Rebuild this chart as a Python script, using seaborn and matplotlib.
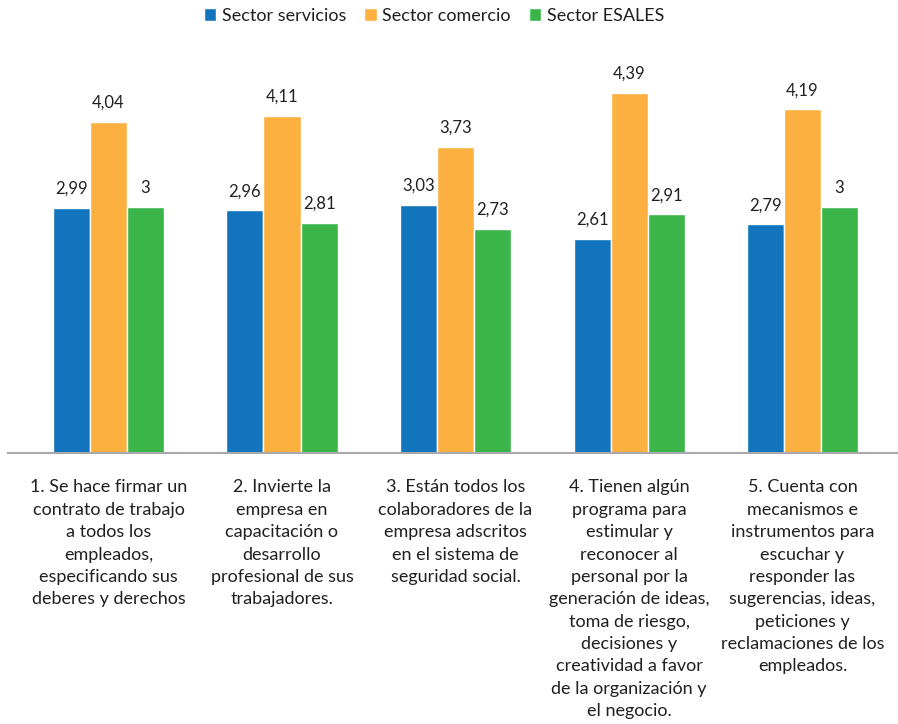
import matplotlib
matplotlib.use("Agg")
import matplotlib.pyplot as plt
import seaborn as sns
import pandas as pd

categorias = [
    "1. Se hace firmar un\ncontrato de trabajo\na todos los\nempleados,\nespecificando sus\ndeberes y derechos",
    "2. Invierte la\nempresa en\ncapacitación o\ndesarrollo\nprofesional de sus\ntrabajadores.",
    "3. Están todos los\ncolaboradores de la\nempresa adscritos\nen el sistema de\nseguridad social.",
    "4. Tienen algún\nprograma para\nestimular y\nreconocer al\npersonal por la\ngeneración de ideas,\ntoma de riesgo,\ndecisiones y\ncreatividad a favor\nde la organización y\nel negocio.",
    "5. Cuenta con\nmecanismos e\ninstrumentos para\nescuchar y\nresponder las\nsugerencias, ideas,\npeticiones y\nreclamaciones de los\nempleados.",
]
series = ["Sector servicios", "Sector comercio", "Sector ESALES"]
servicios = [2.99, 2.96, 3.03, 2.61, 2.79]
comercio = [4.04, 4.11, 3.73, 4.39, 4.19]
esales = [3.00, 2.81, 2.73, 2.91, 3.00]
colores = ["#1174BC", "#FBB040", "#3BB54A"]

rows = []
for s, vals in zip(series, [servicios, comercio, esales]):
    for i, v in enumerate(vals):
        rows.append({"pregunta": i, "sector": s, "valor": v})
df = pd.DataFrame(rows)

sns.set_theme(style="white")
plt.rcParams["font.family"] = ["Lato", "DejaVu Sans"]

fig = plt.figure(figsize=(8.98, 7.24), dpi=100)
ax = fig.add_axes([8 / 898, 0.3743, 890 / 898, 0.5436])

sns.barplot(data=df, x="pregunta", y="valor", hue="sector", hue_order=series,
            palette=colores, width=0.64, saturation=1, ax=ax, legend=True)

ax.set_xlim(-0.579, 4.55)
ax.set_ylim(0, 4.8)
for sp in ["top", "right", "left"]:
    ax.spines[sp].set_visible(False)
ax.spines["bottom"].set_color("#A7A9AC")
ax.spines["bottom"].set_linewidth(1.5)
ax.set_yticks([])
ax.set_xlabel("")
ax.set_ylabel("")
ax.set_xticks(range(len(categorias)))
ax.set_xticklabels(categorias, fontsize=13, color="#231F20", linespacing=1.49)
ax.tick_params(axis="x", length=0, pad=19)

def fmt(v):
    return f"{v:.2f}".rstrip("0").rstrip(".").replace(".", ",")

for cont in ax.containers:
    ax.bar_label(cont, labels=[fmt(b.get_height()) for b in cont], padding=8,
                 fontsize=12, color="#231F20")

handles, labels = ax.get_legend_handles_labels()
ax.get_legend().remove()
leg = fig.legend(handles, labels, loc="center", bbox_to_anchor=(0.5 - 15 / 898, 1 - 16 / 724), ncol=3,
                 frameon=False, fontsize=13, handlelength=0.7, handleheight=0.7,
                 handletextpad=0.3, columnspacing=1.0)
for t in leg.get_texts():
    t.set_color("#231F20")

fig.savefig("out.png", dpi=100, facecolor="white")
